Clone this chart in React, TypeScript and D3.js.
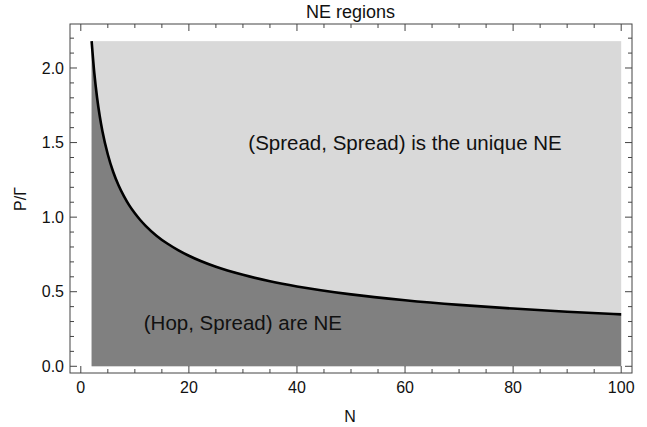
import * as d3 from "d3"
import { useEffect, useRef } from "react"

const W = 647
const H = 427
const margin = { top: 24, right: 15, bottom: 54, left: 70 }

// boundary curve
const nValues = [2, 2.5, 3, 3.5, 4, 5, 6, 7, 8, 9, 10, 11, 12, 14, 16, 18, 20, 25, 30, 35, 40, 50, 60, 70, 80, 90, 100]
const ratioValues = [
  2.18, 1.965, 1.804, 1.678, 1.576, 1.42, 1.303, 1.212, 1.139, 1.077, 1.026, 0.981, 0.942, 0.876, 0.823, 0.779,
  0.741, 0.667, 0.613, 0.57, 0.535, 0.482, 0.443, 0.412, 0.387, 0.366, 0.348,
]
const xTicks = [0, 20, 40, 60, 80, 100]
const yTicks = [0, 0.5, 1.0, 1.5, 2.0]
const labels = [
  { text: "(Spread, Spread) is the unique NE", n: 60, v: 1.5 },
  { text: "(Hop, Spread) are NE", n: 30, v: 0.29 },
]

export default function App() {
  const svgRef = useRef<SVGSVGElement | null>(null)

  useEffect(() => {
    if (!svgRef.current) return
    const svg = d3.select(svgRef.current)
    svg.selectAll("*").remove()

    const font = "Liberation Sans, Arial, sans-serif"
    const x = d3.scaleLinear().domain([-2, 102]).range([margin.left, W - margin.right])
    const y = d3.scaleLinear().domain([-0.045, 2.295]).range([H - margin.bottom, margin.top])
    const data = nValues.map((n, i) => [n, ratioValues[i]] as [number, number])
    const nMin = nValues[0]
    const nMax = nValues[nValues.length - 1]
    const yTop = ratioValues[0]

    // light region
    svg
      .append("rect")
      .attr("x", x(nMin))
      .attr("y", y(yTop))
      .attr("width", x(nMax) - x(nMin))
      .attr("height", y(0) - y(yTop))
      .attr("fill", "#d9d9d9")

    // dark region under the curve
    const area = d3
      .area<[number, number]>()
      .x((d) => x(d[0]))
      .y0(y(0))
      .y1((d) => y(d[1]))
      .curve(d3.curveMonotoneX)
    svg.append("path").datum(data).attr("d", area).attr("fill", "#808080")

    const line = d3
      .line<[number, number]>()
      .x((d) => x(d[0]))
      .y((d) => y(d[1]))
      .curve(d3.curveMonotoneX)
    svg
      .append("path")
      .datum(data)
      .attr("d", line)
      .attr("fill", "none")
      .attr("stroke", "#000")
      .attr("stroke-width", 2.6)

    // region labels
    labels.forEach((l) => {
      svg
        .append("text")
        .attr("x", x(l.n))
        .attr("y", y(l.v))
        .attr("dy", "0.35em")
        .attr("text-anchor", "middle")
        .style("font-family", font)
        .style("font-size", "20.5px")
        .attr("fill", "#111")
        .text(l.text)
    })

    // frame
    const frameColor = "#444"
    const x0 = margin.left
    const x1 = W - margin.right
    const y0 = H - margin.bottom
    const y1 = margin.top
    svg
      .append("rect")
      .attr("x", x0)
      .attr("y", y1)
      .attr("width", x1 - x0)
      .attr("height", y0 - y1)
      .attr("fill", "none")
      .attr("stroke", frameColor)
      .attr("stroke-width", 1)

    const ticksG = svg.append("g").attr("stroke", frameColor).attr("stroke-width", 1)
    d3.range(0, 101, 5).forEach((t) => {
      const len = t % 20 === 0 ? 7 : 4
      ticksG.append("line").attr("x1", x(t)).attr("x2", x(t)).attr("y1", y0).attr("y2", y0 - len)
      ticksG.append("line").attr("x1", x(t)).attr("x2", x(t)).attr("y1", y1).attr("y2", y1 + len)
    })
    d3.range(0, 23).forEach((i) => {
      const t = i / 10
      const len = i % 5 === 0 ? 7 : 4
      ticksG.append("line").attr("x1", x0).attr("x2", x0 + len).attr("y1", y(t)).attr("y2", y(t))
      ticksG.append("line").attr("x1", x1).attr("x2", x1 - len).attr("y1", y(t)).attr("y2", y(t))
    })

    xTicks.forEach((t) => {
      svg
        .append("text")
        .attr("x", x(t))
        .attr("y", y0 + 20)
        .attr("text-anchor", "middle")
        .style("font-family", font)
        .style("font-size", "16px")
        .attr("fill", "#111")
        .text(t)
    })
    yTicks.forEach((t) => {
      svg
        .append("text")
        .attr("x", x0 - 6)
        .attr("y", y(t))
        .attr("dy", "0.35em")
        .attr("text-anchor", "end")
        .style("font-family", font)
        .style("font-size", "16px")
        .attr("fill", "#111")
        .text(d3.format(".1f")(t))
    })

    // titles
    svg
      .append("text")
      .attr("x", 350.5)
      .attr("y", 17.5)
      .attr("text-anchor", "middle")
      .style("font-family", font)
      .style("font-size", "18px")
      .attr("fill", "#111")
      .text("NE regions")
    svg
      .append("text")
      .attr("x", 350)
      .attr("y", 421.5)
      .attr("text-anchor", "middle")
      .style("font-family", font)
      .style("font-size", "16px")
      .attr("fill", "#111")
      .text("N")
    svg
      .append("text")
      .attr("transform", `translate(26,199) rotate(-90)`)
      .attr("text-anchor", "middle")
      .style("font-family", font)
      .style("font-size", "16px")
      .attr("fill", "#111")
      .text("P/Γ")
  }, [])

  return (
    <svg
      ref={svgRef}
      width={W}
      height={H}
      style={{ position: "absolute", left: 0, top: 0, background: "#fff" }}
      xmlns="http://www.w3.org/2000/svg"
    />
  )
}
